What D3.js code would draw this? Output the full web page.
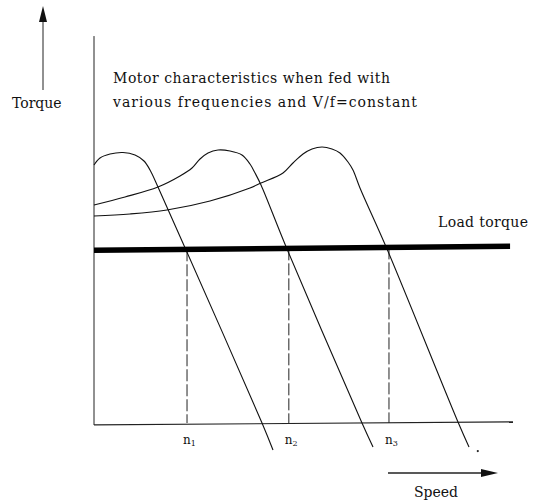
<!DOCTYPE html>
<html>
<head>
<meta charset="utf-8">
<script src="https://cdn.jsdelivr.net/npm/d3@7"></script>
<style>
  body { margin: 0; background: #fff; }
  text { font-family: "DejaVu Serif", "Liberation Serif", serif; fill: #111; }
</style>
</head>
<body>
<script>
// motor torque curves (speed, torque in arbitrary units 0..100)
var curve1Speed = [0, 1.43, 3.82, 6.92, 9.79, 11.93, 13.37, 15.27, 21.96, 40.10, 42.72];
var curve1Torque = [67.01, 68.83, 69.87, 70.26, 69.61, 68.05, 65.71, 61.30, 44.94, 0, -7.01];

var curve2Speed = [0, 7.40, 15.27, 20.53, 23.39, 25.30, 27.21, 29.59, 32.46, 35.32, 37.23, 38.43, 39.86, 46.06, 63.96, 66.59];
var curve2Torque = [56.62, 58.70, 61.30, 64.16, 66.23, 68.57, 70.13, 70.91, 70.65, 69.61, 67.27, 64.94, 61.82, 45.19, 0, -6.23];

var curve3Speed = [0, 8.59, 17.42, 27.68, 37.23, 39.86, 45.11, 47.49, 49.88, 52.03, 54.42, 56.80, 58.71, 60.62, 61.81, 63.48, 69.93, 86.87, 89.50];
var curve3Torque = [53.77, 54.29, 55.32, 57.66, 61.04, 62.34, 64.94, 67.53, 69.87, 71.17, 71.69, 71.17, 70.13, 67.79, 65.71, 61.04, 45.19, 0.26, -6.23];

var loadSpeed = [0, 99.3];
var loadTorque = [44.9, 45.9];

var opSpeeds = [22.2, 46.5, 70.4];
var opLabels = ["1", "2", "3"];

var titleLines = ["Motor characteristics when fed with", "various frequencies and V/f=constant"];

var svg = d3.select("body").append("svg")
  .attr("width", 537)
  .attr("height", 503);

var x = d3.scaleLinear().domain([0, 100]).range([94, 513]);
var y = d3.scaleLinear().domain([0, 100]).range([423, 38]);

var line = d3.line()
  .x(function (d) { return x(d[0]); })
  .y(function (d) { return y(d[1]); })
  .curve(d3.curveCatmullRom.alpha(0.5));

function zip(a, b) { return a.map(function (v, i) { return [v, b[i]]; }); }

// axes
svg.append("line")
  .attr("x1", x(0)).attr("y1", y(0) + 2)
  .attr("x2", x(0)).attr("y2", y(100.5))
  .attr("stroke", "#222").attr("stroke-width", 1);
svg.append("line")
  .attr("x1", x(0)).attr("y1", y(-0.5))
  .attr("x2", x(100)).attr("y2", y(0.3))
  .attr("stroke", "#222").attr("stroke-width", 1.2);

// dashed operating lines
function loadAt(s) {
  return loadTorque[0] + (loadTorque[1] - loadTorque[0]) * (s - loadSpeed[0]) / (loadSpeed[1] - loadSpeed[0]);
}
svg.selectAll(".op")
  .data(opSpeeds)
  .enter()
  .append("line")
  .attr("x1", function (d) { return x(d); })
  .attr("x2", function (d) { return x(d); })
  .attr("y1", function (d) { return y(loadAt(d)); })
  .attr("y2", y(0))
  .attr("stroke", "#222")
  .attr("stroke-width", 1)
  .attr("stroke-dasharray", "12,3");

// motor curves
[zip(curve1Speed, curve1Torque), zip(curve2Speed, curve2Torque), zip(curve3Speed, curve3Torque)]
  .forEach(function (pts) {
    svg.append("path")
      .attr("d", line(pts))
      .attr("fill", "none")
      .attr("stroke", "#111")
      .attr("stroke-width", 1.1);
  });

// load torque
svg.append("path")
  .attr("d", d3.line().x(function (d) { return x(d[0]); }).y(function (d) { return y(d[1]); })(zip(loadSpeed, loadTorque)))
  .attr("stroke", "#000")
  .attr("stroke-width", 5.5);

svg.append("text")
  .attr("x", 438).attr("y", 227)
  .attr("font-size", 14)
  .attr("textLength", 90)
  .text("Load torque");

// speed labels n1 n2 n3
var lab = svg.selectAll(".nlab")
  .data(opSpeeds)
  .enter()
  .append("text")
  .attr("x", function (d) { return x(d) - 4; })
  .attr("y", 444)
  .attr("font-size", 12);
lab.append("tspan").text("n");
lab.append("tspan")
  .attr("font-size", 8)
  .attr("dy", 2)
  .text(function (d, i) { return opLabels[i]; });

// small dot at end of curve 3
svg.append("circle")
  .attr("cx", x(91.6)).attr("cy", y(-7.3))
  .attr("r", 1.1).attr("fill", "#222");

// title
svg.selectAll(".title")
  .data(titleLines)
  .enter()
  .append("text")
  .attr("x", 113)
  .attr("y", function (d, i) { return 83 + i * 24; })
  .attr("font-size", 14)
  .attr("textLength", function (d, i) { return i === 0 ? 277 : 304; })
  .text(function (d) { return d; });

// torque arrow
svg.append("line")
  .attr("x1", 43).attr("y1", 90).attr("x2", 43).attr("y2", 18)
  .attr("stroke", "#222").attr("stroke-width", 1);
svg.append("path")
  .attr("d", "M43,6 L39,22 L47,22 Z")
  .attr("fill", "#111");
svg.append("text")
  .attr("x", 12).attr("y", 108)
  .attr("font-size", 14)
  .text("Torque");

// speed arrow
svg.append("line")
  .attr("x1", 388).attr("y1", 473).attr("x2", 484).attr("y2", 473)
  .attr("stroke", "#222").attr("stroke-width", 1.3);
svg.append("path")
  .attr("d", "M498,473 L481,469 L481,477 Z")
  .attr("fill", "#111");
svg.append("text")
  .attr("x", 414).attr("y", 497)
  .attr("font-size", 14)
  .text("Speed");
</script>
</body>
</html>
